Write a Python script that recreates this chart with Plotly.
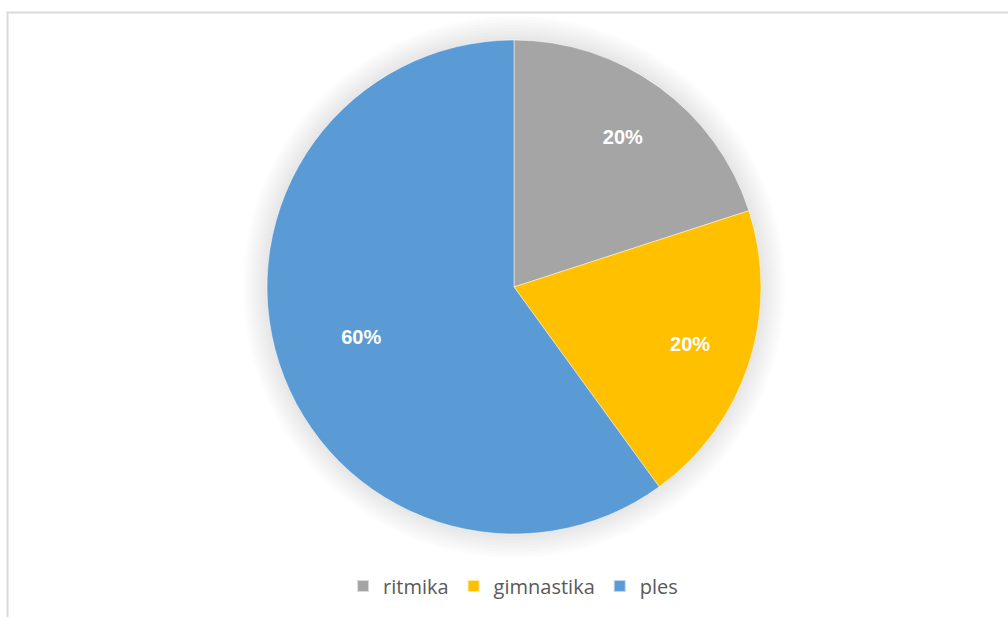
import plotly.graph_objects as go

categories = ["ritmika", "gimnastika", "ples"]
values = [20, 20, 60]
colors = ["#A5A5A5", "#FFC000", "#5B9BD5"]

W, H = 1008, 617
PX0, PX1, PY_TOP, PY_BOT = 267, 761, 40, 534
dom = dict(x=[PX0 / W, PX1 / W], y=[1 - PY_BOT / H, 1 - PY_TOP / H])
PCT = "%{percent:.0%}"

fig = go.Figure()

# soft glow/shadow around the pie (decoration): stacked faint discs
for d in range(24, 0, -3):
    fig.add_trace(go.Pie(
        labels=["_shadow"], values=[1], sort=False,
        marker=dict(colors=["rgba(0,0,0,0.013)"], line=dict(width=0)),
        textinfo="none", hoverinfo="skip", showlegend=False,
        domain=dict(x=[(PX0 - d) / W, (PX1 + d) / W],
                    y=[1 - (PY_BOT + d) / H, 1 - (PY_TOP - d) / H]),
    ))

fig.add_trace(go.Pie(
    labels=categories,
    values=values,
    sort=False,
    direction="clockwise",
    rotation=0,
    marker=dict(colors=colors, line=dict(color="rgba(255,255,255,0.6)", width=0.8)),
    textinfo="none",
    domain=dom,
    hoverinfo="label+percent",
))

# transparent rings used only to place the percentage labels
def label_ring(hole, templates):
    return go.Pie(
        labels=categories,
        values=values,
        sort=False,
        direction="clockwise",
        rotation=0,
        hole=hole,
        marker=dict(colors=["rgba(0,0,0,0)"] * len(values), line=dict(width=0)),
        texttemplate=templates,
        textposition="inside",
        insidetextorientation="horizontal",
        textfont=dict(family="Liberation Sans", size=20, color="white", weight="bold"),
        domain=dom,
        showlegend=False,
        hoverinfo="skip",
    )

fig.add_trace(label_ring(0.5, [PCT, PCT, ""]))
fig.add_trace(label_ring(0.3, ["", "", PCT]))

fig.update_layout(
    width=W, height=H,
    margin=dict(l=0, r=0, t=0, b=0),
    paper_bgcolor="white",
    plot_bgcolor="white",
    showlegend=True,
    legend=dict(
        orientation="h",
        x=0.509, xanchor="center",
        y=1 - 586 / H, yanchor="middle",
        font=dict(family="Open Sans", size=20, color="#595959"),
        itemsizing="constant",
    ),
    shapes=[dict(
        type="rect", xref="paper", yref="paper",
        x0=7.5 / W, x1=1.02, y0=-0.02, y1=1 - 12.5 / H,
        line=dict(color="#D9D9D9", width=2),
        fillcolor="rgba(0,0,0,0)", layer="below",
    )],
)

fig.write_html("out.html", config={"displayModeBar": False},
               post_script="document.body.style.margin='0';")
